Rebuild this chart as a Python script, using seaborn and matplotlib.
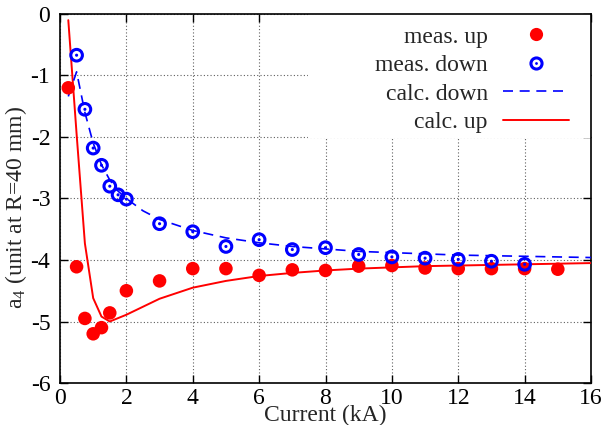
import numpy as np
import pandas as pd
import matplotlib
matplotlib.use("Agg")
import matplotlib.pyplot as plt
import seaborn as sns
from matplotlib.patches import Rectangle
from matplotlib.lines import Line2D
from matplotlib.legend_handler import HandlerTuple

# ---- data ----
up_x = [0.25, 0.5, 0.75, 1.0, 1.25, 1.5, 2, 3, 4, 5, 6, 7, 8, 9, 10, 11, 12, 13, 14, 15]
up_y = [-1.2, -4.11, -4.95, -5.2, -5.1, -4.86, -4.5, -4.34, -4.14, -4.14, -4.25,
        -4.16, -4.17, -4.10, -4.09, -4.13, -4.14, -4.14, -4.14, -4.15]

down_x = [0.5, 0.75, 1.0, 1.25, 1.5, 1.75, 2, 3, 4, 5, 6, 7, 8, 9, 10, 11, 12, 13, 14]
down_y = [-0.67, -1.55, -2.18, -2.46, -2.80, -2.94, -3.01, -3.41, -3.54, -3.78, -3.67,
          -3.83, -3.80, -3.91, -3.95, -3.97, -3.99, -4.02, -4.07]

calc_down_x = [0.25, 0.5, 0.75, 1.0, 1.25, 1.5, 1.75, 2, 2.5, 3, 4, 5, 6, 7, 8, 9, 10, 11, 12, 13, 14, 15, 16]
calc_down_y = [-1.34, -0.94, -1.6, -2.1, -2.45, -2.7, -2.88, -3.0, -3.2, -3.34, -3.52, -3.64,
               -3.72, -3.78, -3.82, -3.86, -3.88, -3.90, -3.92, -3.93, -3.94, -3.95, -3.96]

calc_up_x = [0.25, 0.5, 0.75, 1.0, 1.25, 1.5, 2, 3, 4, 5, 6, 7, 8, 9, 10, 11, 12, 13, 14, 15, 16]
calc_up_y = [-0.1, -1.95, -3.73, -4.62, -4.92, -5.0, -4.89, -4.63, -4.45, -4.34, -4.26,
             -4.21, -4.17, -4.14, -4.12, -4.10, -4.09, -4.08, -4.07, -4.06, -4.05]

xticks = list(range(0, 17, 2))
yticks = list(range(-6, 1))

# ---- style ----
sns.set_style("ticks")
plt.rcParams['font.family'] = ['Liberation Serif', 'DejaVu Serif']
plt.rcParams['mathtext.fontset'] = 'custom'
plt.rcParams['mathtext.rm'] = 'Liberation Serif'
plt.rcParams['mathtext.it'] = 'Liberation Serif'
plt.rcParams['axes.unicode_minus'] = False

FS = 17
fig = plt.figure(figsize=(6.05, 4.25), dpi=100)
ax = fig.add_axes([60/605, 1-383/425, 531/605, 369/425])

RED = '#ff0000'
BLUE = '#0000ff'

sns.lineplot(x=calc_up_x, y=calc_up_y, ax=ax, color=RED, lw=1.4, zorder=3)
sns.lineplot(x=calc_down_x, y=calc_down_y, ax=ax, color=BLUE, lw=1.2, zorder=3)
ax.get_lines()[1].set_dashes((6, 4))

sns.scatterplot(x=up_x, y=up_y, ax=ax, color=RED, s=95, edgecolor='none', zorder=4)
sns.scatterplot(x=down_x, y=down_y, ax=ax, facecolor='none', edgecolor=BLUE,
                linewidth=2.2, s=70, zorder=4)
sns.scatterplot(x=down_x, y=down_y, ax=ax, color=BLUE, s=5, edgecolor='none', zorder=5)

ax.set_xlim(0, 16)
ax.set_ylim(-6, 0)
ax.set_xticks(xticks)
ax.set_yticks(yticks)
ax.grid(True, color='#606060', linestyle=(0, (1, 2)), linewidth=0.8)
ax.set_axisbelow(True)
ax.tick_params(direction='in', length=6, width=1, top=True, right=True,
               labelsize=FS, colors='black')
ax.tick_params(axis='y', pad=7)
ax.tick_params(axis='x', pad=3.5)
for s in ax.spines.values():
    s.set_linewidth(1.2)
    s.set_color('black')

ax.set_xlabel('Current (kA)', fontsize=FS)
ax.xaxis.set_label_coords(0.5, -0.059)
ax.set_ylabel('a$_4$ (unit at R=40 mm)', fontsize=FS)
ax.yaxis.set_label_coords(-0.058, 0.477)

# white backdrop behind key (covers grid like gnuplot key)
ax.add_patch(Rectangle((0.467, 0.664), 0.533, 0.336, transform=ax.transAxes,
                       facecolor='white', edgecolor='none', zorder=1))

h_up = Line2D([], [], marker='o', color=RED, linestyle='none', markersize=9.5, markeredgewidth=0)
h_down_o = Line2D([], [], marker='o', markerfacecolor='none', markeredgecolor=BLUE,
                  linestyle='none', markersize=8, markeredgewidth=2.2)
h_down_d = Line2D([], [], marker='o', color=BLUE, linestyle='none', markersize=2, markeredgewidth=0)
h_cd = Line2D([], [], color=BLUE, lw=1.2, dashes=(6, 4))
h_cu = Line2D([], [], color=RED, lw=1.4)
leg = ax.legend([h_up, (h_down_o, h_down_d), h_cd, h_cu],
                ['meas. up', 'meas. down', 'calc. down', 'calc. up'],
                handler_map={tuple: HandlerTuple(ndivide=1, pad=0)},
                loc='upper right', bbox_to_anchor=(0.9586, 0.9675),
                markerfirst=False, frameon=False, fontsize=FS,
                handlelength=2.8, handletextpad=0.64, labelspacing=0.3,
                borderaxespad=0, borderpad=0)
for t in leg.get_texts():
    t.set_ha('right')
leg.set_zorder(6)

fig.savefig('out.png', dpi=100)
